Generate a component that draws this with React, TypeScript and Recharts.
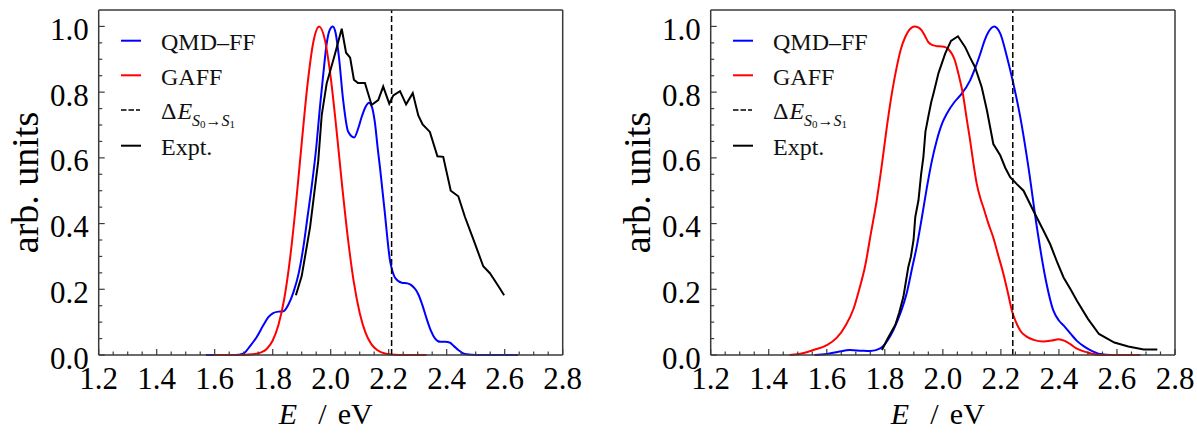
import React from 'react';
import { LineChart, Line, XAxis, YAxis, ReferenceLine, Legend } from 'recharts';

const FONT = '"Liberation Serif", "Times New Roman", serif';
const FRAME = '#3a3a3a';
const TXT = { fontFamily: FONT };

// ---- axis ticks ----
const xMajorTicks = [1.2, 1.4, 1.6, 1.8, 2.0, 2.2, 2.4, 2.6, 2.8];
const xAllTicks = [
  1.2, 1.25, 1.3, 1.35, 1.4, 1.45, 1.5, 1.55, 1.6, 1.65, 1.7, 1.75, 1.8, 1.85, 1.9, 1.95,
  2.0, 2.05, 2.1, 2.15, 2.2, 2.25, 2.3, 2.35, 2.4, 2.45, 2.5, 2.55, 2.6, 2.65, 2.7, 2.75, 2.8,
];
const yMajorTicks = [0.0, 0.2, 0.4, 0.6, 0.8, 1.0];
const yAllTicks = [
  0.0, 0.05, 0.1, 0.15, 0.2, 0.25, 0.3, 0.35, 0.4, 0.45, 0.5, 0.55, 0.6, 0.65, 0.7, 0.75, 0.8,
  0.85, 0.9, 0.95, 1.0,
];

// ---- left panel ----
const qmdLeftE = [1.57, 1.62, 1.67, 1.7, 1.72, 1.745, 1.768, 1.785, 1.8, 1.82, 1.837, 1.855, 1.871, 1.89, 1.906, 1.92, 1.934, 1.95, 1.963, 1.975, 1.986, 1.997, 2.007, 2.017, 2.028, 2.043, 2.06, 2.081, 2.095, 2.107, 2.12, 2.132, 2.142, 2.152, 2.162, 2.17, 2.187, 2.196, 2.204, 2.213, 2.222, 2.245, 2.265, 2.279, 2.292, 2.302, 2.315, 2.331, 2.345, 2.36, 2.378, 2.395, 2.41, 2.425, 2.44, 2.455, 2.469, 2.5, 2.55, 2.6, 2.646];
const qmdLeftV = [0, 0, 0, 0.005, 0.025, 0.055, 0.091, 0.115, 0.127, 0.132, 0.133, 0.155, 0.19, 0.25, 0.33, 0.42, 0.51, 0.63, 0.755, 0.86, 0.947, 0.99, 1.0, 0.98, 0.91, 0.775, 0.68, 0.662, 0.69, 0.725, 0.755, 0.768, 0.755, 0.71, 0.63, 0.57, 0.43, 0.35, 0.29, 0.255, 0.235, 0.22, 0.218, 0.212, 0.2, 0.185, 0.155, 0.11, 0.075, 0.05, 0.04, 0.04, 0.038, 0.027, 0.015, 0.006, 0.002, 0, 0, 0, 0];

const gaffLeftE = [1.6, 1.66, 1.7, 1.73, 1.76, 1.78, 1.8, 1.82, 1.84, 1.86, 1.88, 1.9, 1.92, 1.94, 1.96, 1.98, 2.0, 2.02, 2.04, 2.06, 2.08, 2.1, 2.12, 2.14, 2.16, 2.19, 2.22, 2.26, 2.33];
const gaffLeftV = [0, 0, 0.0003, 0.002, 0.008, 0.019, 0.044, 0.092, 0.172, 0.295, 0.458, 0.645, 0.823, 0.952, 1.0, 0.959, 0.845, 0.685, 0.51, 0.35, 0.22, 0.128, 0.068, 0.033, 0.015, 0.004, 0.001, 0, 0];

const exptLeftE = [1.88, 1.9, 1.929, 1.957, 1.969, 1.986, 2.015, 2.038, 2.053, 2.067, 2.08, 2.094, 2.118, 2.141, 2.164, 2.181, 2.202, 2.216, 2.239, 2.26, 2.283, 2.302, 2.317, 2.342, 2.368, 2.388, 2.414, 2.44, 2.463, 2.492, 2.526, 2.549, 2.578, 2.598];
const exptLeftV = [0.182, 0.24, 0.39, 0.59, 0.73, 0.826, 0.917, 0.993, 0.92, 0.905, 0.838, 0.828, 0.828, 0.761, 0.776, 0.817, 0.765, 0.79, 0.803, 0.763, 0.797, 0.729, 0.702, 0.679, 0.605, 0.603, 0.5, 0.483, 0.42, 0.352, 0.27, 0.249, 0.21, 0.182];

const vlineLeft = 2.21;

// ---- right panel ----
const qmdRightE = [1.558, 1.6, 1.64, 1.68, 1.72, 1.75, 1.784, 1.81, 1.83, 1.855, 1.876, 1.893, 1.91, 1.928, 1.945, 1.962, 1.979, 2.0, 2.014, 2.04, 2.06, 2.094, 2.11, 2.129, 2.145, 2.157, 2.177, 2.198, 2.221, 2.243, 2.267, 2.295, 2.324, 2.353, 2.381, 2.4, 2.416, 2.44, 2.462, 2.485, 2.508, 2.542, 2.58, 2.68];
const qmdRightV = [0, 0.003, 0.01, 0.015, 0.013, 0.012, 0.02, 0.045, 0.077, 0.13, 0.19, 0.26, 0.33, 0.42, 0.51, 0.59, 0.653, 0.71, 0.735, 0.77, 0.79, 0.836, 0.87, 0.917, 0.96, 0.983, 1.0, 0.978, 0.907, 0.826, 0.723, 0.571, 0.389, 0.236, 0.135, 0.105, 0.09, 0.065, 0.043, 0.027, 0.015, 0.003, 0, 0];

const gaffRightE = [1.472, 1.5, 1.554, 1.6, 1.634, 1.665, 1.692, 1.712, 1.732, 1.752, 1.772, 1.79, 1.807, 1.825, 1.841, 1.855, 1.87, 1.885, 1.902, 1.915, 1.927, 1.94, 1.95, 1.965, 1.979, 1.995, 2.008, 2.02, 2.031, 2.04, 2.048, 2.058, 2.069, 2.082, 2.094, 2.105, 2.117, 2.13, 2.14, 2.157, 2.174, 2.192, 2.209, 2.224, 2.238, 2.252, 2.267, 2.29, 2.313, 2.347, 2.375, 2.399, 2.42, 2.439, 2.46, 2.485, 2.51, 2.531, 2.6, 2.68];
const gaffRightV = [0, 0.002, 0.015, 0.03, 0.052, 0.09, 0.14, 0.2, 0.27, 0.37, 0.47, 0.58, 0.694, 0.8, 0.876, 0.93, 0.967, 0.99, 1.0, 0.997, 0.988, 0.968, 0.952, 0.943, 0.94, 0.939, 0.937, 0.93, 0.917, 0.9, 0.876, 0.84, 0.795, 0.72, 0.653, 0.585, 0.52, 0.475, 0.448, 0.4, 0.357, 0.3, 0.246, 0.19, 0.135, 0.1, 0.074, 0.055, 0.046, 0.041, 0.044, 0.048, 0.043, 0.033, 0.02, 0.011, 0.005, 0.001, 0, 0];

const exptRightE = [1.79, 1.81, 1.836, 1.85, 1.864, 1.872, 1.881, 1.89, 1.899, 1.905, 1.916, 1.925, 1.933, 1.94, 1.95, 1.96, 1.968, 1.985, 2.008, 2.028, 2.052, 2.077, 2.094, 2.111, 2.134, 2.152, 2.174, 2.198, 2.215, 2.232, 2.255, 2.278, 2.312, 2.347, 2.37, 2.395, 2.416, 2.44, 2.462, 2.5, 2.538, 2.591, 2.639, 2.692, 2.739];
const exptRightV = [0.015, 0.05, 0.091, 0.13, 0.177, 0.22, 0.268, 0.3, 0.35, 0.42, 0.471, 0.55, 0.603, 0.68, 0.726, 0.77, 0.797, 0.858, 0.917, 0.956, 0.97, 0.937, 0.905, 0.876, 0.815, 0.744, 0.642, 0.607, 0.57, 0.541, 0.52, 0.5, 0.439, 0.378, 0.337, 0.28, 0.236, 0.2, 0.165, 0.11, 0.064, 0.038, 0.026, 0.017, 0.017];

const vlineRight = 2.241;

const seriesNames = ['QMD–FF', 'GAFF', 'Expt.'];
const seriesColors = ['#0000ff', '#ff0000', '#000000'];

const toRows = (es: number[], vs: number[]) => es.map((E, i) => ({ E, v: vs[i] }));

const isMajor = (v: number, majors: number[]) => majors.some((m) => Math.abs(m - v) < 1e-6);

const MAJOR = 6;
const MINOR = 3.5;
const TICKW = 1.2;

const BottomTick = (props: any) => {
  const { x, y, payload } = props;
  const major = isMajor(payload.value, xMajorTicks);
  return (
    <g>
      <line x1={x} x2={x} y1={y} y2={y - (major ? MAJOR : MINOR)} stroke={FRAME} strokeWidth={TICKW} />
      {major && (
        <text x={x} y={y + 33.5} textAnchor="middle" fontSize={31} style={TXT} fill="#000">
          {payload.value.toFixed(1)}
        </text>
      )}
    </g>
  );
};

const TopTick = (props: any) => {
  const { x, y, payload } = props;
  const major = isMajor(payload.value, xMajorTicks);
  return <line x1={x} x2={x} y1={y} y2={y + (major ? MAJOR : MINOR)} stroke={FRAME} strokeWidth={TICKW} />;
};

const LeftTick = (props: any) => {
  const { x, y, payload } = props;
  const major = isMajor(payload.value, yMajorTicks);
  return (
    <g>
      <line x1={x} x2={x + (major ? MAJOR : MINOR)} y1={y} y2={y} stroke={FRAME} strokeWidth={TICKW} />
      {major && (
        <text x={x - 10} y={y + 13.5} textAnchor="end" fontSize={31} style={TXT} fill="#000">
          {payload.value.toFixed(1)}
        </text>
      )}
    </g>
  );
};

const RightTick = (props: any) => {
  const { x, y, payload } = props;
  const major = isMajor(payload.value, yMajorTicks);
  return <line x1={x} x2={x - (major ? MAJOR : MINOR)} y1={y} y2={y} stroke={FRAME} strokeWidth={TICKW} />;
};

const LegendBox = () => {
  const rows = [17.7, 52.3, 87, 122.7];
  const tx = 40;
  const fs = 24;
  return (
    <svg width={220} height={145} style={{ display: 'block', overflow: 'visible' }}>
      <line x1={0} x2={20} y1={rows[0]} y2={rows[0]} stroke={seriesColors[0]} strokeWidth={2} />
      <text x={tx} y={rows[0] + 9.3} fontSize={fs} style={TXT} fill="#111">{seriesNames[0]}</text>
      <line x1={0} x2={20} y1={rows[1]} y2={rows[1]} stroke={seriesColors[1]} strokeWidth={2} />
      <text x={tx} y={rows[1] + 9.3} fontSize={fs} style={TXT} fill="#111">{seriesNames[1]}</text>
      <line x1={0} x2={19} y1={rows[2]} y2={rows[2]} stroke="#000" strokeWidth={1.5} strokeDasharray="5.5 2" />
      <text x={tx} y={rows[2] + 8.5} fontSize={fs} style={TXT} fill="#111">
        <tspan>Δ</tspan>
        <tspan fontStyle="italic" dx={1}>E</tspan>
        <tspan fontSize={16} fontStyle="italic" dy={7.5}>S</tspan>
        <tspan fontSize={11} dy={1.5}>0</tspan>
        <tspan fontSize={16} dy={-1.5}>→</tspan>
        <tspan fontSize={16} fontStyle="italic">S</tspan>
        <tspan fontSize={11} dy={1.5}>1</tspan>
      </text>
      <line x1={0} x2={20} y1={rows[3]} y2={rows[3]} stroke={seriesColors[2]} strokeWidth={2} />
      <text x={tx} y={rows[3] + 9.3} fontSize={fs} style={TXT} fill="#111">{seriesNames[2]}</text>
    </svg>
  );
};

type PanelProps = {
  width: number;
  ml: number;
  mr: number;
  qmd: { E: number; v: number }[];
  gaff: { E: number; v: number }[];
  expt: { E: number; v: number }[];
  vline: number;
};

const XLabel = (p: any) => {
  const vb = p.viewBox;
  const cx = vb.x + vb.width / 2;
  const by = vb.y + 69;
  return (
    <text y={by} fontSize={30} style={TXT} fill="#000">
      <tspan x={cx - 52} fontStyle="italic">E</tspan>
      <tspan x={cx - 12.5}>/</tspan>
      <tspan x={cx + 7}>eV</tspan>
    </text>
  );
};

const YLabel = (p: any) => {
  const vb = p.viewBox;
  const cx = vb.x + vb.width - 61;
  const cy = vb.y + vb.height / 2;
  return (
    <text x={cx} y={cy} transform={`rotate(-90 ${cx} ${cy})`} textAnchor="middle" fontSize={38} style={TXT} fill="#000">
      arb. units
    </text>
  );
};

const Panel = ({ width, ml, mr, qmd, gaff, expt, vline }: PanelProps) => (
  <LineChart width={width} height={436} margin={{ top: 9, right: mr - 1, bottom: 80, left: ml - 1 }} style={TXT}>
    <XAxis
      xAxisId="b"
      dataKey="E"
      type="number"
      domain={[1.2, 2.8]}
      ticks={xAllTicks}
      interval={0}
      orientation="bottom"
      height={1}
      tickSize={0}
      tickMargin={0}
      tickLine={false}
      tick={BottomTick}
      axisLine={{ stroke: FRAME, strokeWidth: 1.5 }}
      label={XLabel}
    />
    <XAxis
      xAxisId="t"
      dataKey="E"
      type="number"
      domain={[1.2, 2.8]}
      ticks={xAllTicks}
      interval={0}
      orientation="top"
      height={1}
      tickSize={0}
      tickMargin={0}
      tickLine={false}
      tick={TopTick}
      axisLine={{ stroke: FRAME, strokeWidth: 1.5 }}
    />
    <YAxis
      yAxisId="l"
      type="number"
      domain={[0, 1.05]}
      ticks={yAllTicks}
      interval={0}
      orientation="left"
      width={1}
      tickSize={0}
      tickMargin={0}
      tickLine={false}
      tick={LeftTick}
      axisLine={{ stroke: FRAME, strokeWidth: 1.5 }}
      label={YLabel}
    />
    <YAxis
      yAxisId="r"
      type="number"
      domain={[0, 1.05]}
      ticks={yAllTicks}
      interval={0}
      orientation="right"
      width={1}
      tickSize={0}
      tickMargin={0}
      tickLine={false}
      tick={RightTick}
      axisLine={{ stroke: FRAME, strokeWidth: 1.5 }}
    />
    <Line xAxisId="b" yAxisId="l" data={qmd} dataKey="v" name={seriesNames[0]} type="monotone" stroke={seriesColors[0]} strokeWidth={2} dot={false} isAnimationActive={false} />
    <Line xAxisId="b" yAxisId="l" data={gaff} dataKey="v" name={seriesNames[1]} type="monotone" stroke={seriesColors[1]} strokeWidth={2} dot={false} isAnimationActive={false} />
    <ReferenceLine xAxisId="b" yAxisId="l" x={vline} stroke="#000" strokeWidth={1.5} strokeDasharray="6 3" />
    <Line xAxisId="b" yAxisId="l" data={expt} dataKey="v" name={seriesNames[2]} type="linear" stroke={seriesColors[2]} strokeWidth={2} dot={false} isAnimationActive={false} />
    <Legend
      layout="vertical"
      align="center"
      verticalAlign="middle"
      wrapperStyle={{ left: ml + 22, top: 23, width: 220, height: 145 }}
      content={() => <LegendBox />}
    />
  </LineChart>
);

export default function App() {
  return (
    <div style={{ position: 'absolute', left: 0, top: 0, width: 1197, height: 436, background: '#fff', fontFamily: FONT }}>
      <div style={{ position: 'absolute', left: 0, top: 0 }}>
        <Panel
          width={600}
          ml={98.7}
          mr={37.3}
          qmd={toRows(qmdLeftE, qmdLeftV)}
          gaff={toRows(gaffLeftE, gaffLeftV)}
          expt={toRows(exptLeftE, exptLeftV)}
          vline={vlineLeft}
        />
      </div>
      <div style={{ position: 'absolute', left: 600, top: 0 }}>
        <Panel
          width={597}
          ml={110.7}
          mr={22}
          qmd={toRows(qmdRightE, qmdRightV)}
          gaff={toRows(gaffRightE, gaffRightV)}
          expt={toRows(exptRightE, exptRightV)}
          vline={vlineRight}
        />
      </div>
    </div>
  );
}
